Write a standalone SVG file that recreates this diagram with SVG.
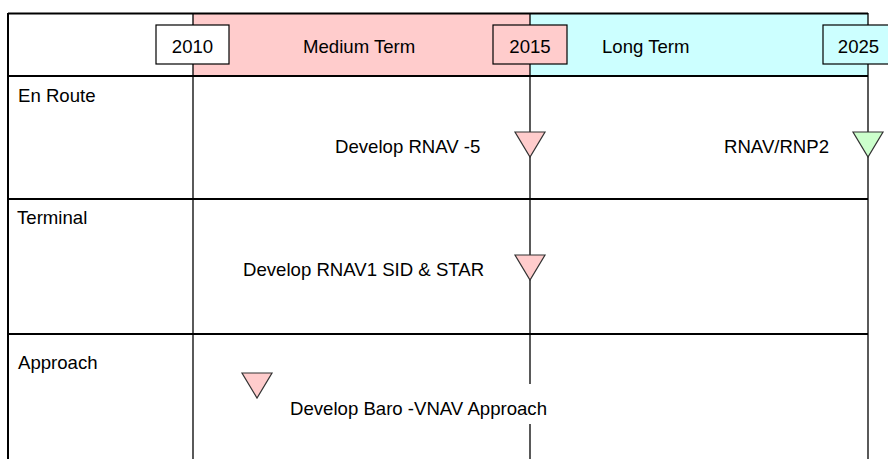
<svg xmlns="http://www.w3.org/2000/svg" width="888" height="459" viewBox="0 0 888 459">
<style>
text{font-family:"Liberation Sans",Arial,sans-serif;font-size:18.6px;fill:#000}
.mid{text-anchor:middle}
.thick{stroke:#000;stroke-width:2;fill:none}
.thin{stroke:#000;stroke-width:1.3;fill:none}
.box{stroke:#000;stroke-width:1.2}
.tri{stroke:#333;stroke-width:1.2}
.pink{fill:#FFCCCC}
.cyan{fill:#CCFFFF}
.green{fill:#CCFFCC}
</style>
<rect width="888" height="459" fill="#fff"/>
<g id="header-bands">
<rect class="pink" x="193" y="13.5" width="337" height="62.5"/>
<rect class="cyan" x="530" y="13.5" width="338" height="62.5"/>
</g>
<g id="grid">
<line class="thick" x1="8" y1="13.5" x2="868" y2="13.5"/>
<line class="thick" x1="8" y1="13" x2="8" y2="459"/>
<line class="thick" x1="8" y1="76" x2="868" y2="76"/>
<line class="thick" x1="8" y1="199" x2="868" y2="199"/>
<line class="thick" x1="8" y1="334" x2="868" y2="334"/>
<line class="thin" x1="193" y1="13" x2="193" y2="459"/>
<line class="thin" x1="868" y1="13" x2="868" y2="459"/>
<line class="thin" x1="530" y1="13" x2="530" y2="384"/>
<line class="thin" x1="530" y1="424" x2="530" y2="459"/>
</g>
<g id="y2010"><rect class="box" x="156" y="25" width="73" height="39" fill="#fff"/><text class="mid" x="192.5" y="53">2010</text></g>
<g id="medium-term"><text x="303" y="53">Medium Term</text></g>
<g id="y2015"><rect class="box pink" x="493" y="25" width="74" height="39"/><text class="mid" x="530" y="53">2015</text></g>
<g id="long-term"><text x="602" y="53">Long Term</text></g>
<g id="y2025"><rect class="box cyan" x="823" y="25" width="73" height="39"/><text class="mid" x="858.5" y="53">2025</text></g>
<g id="row-enroute"><text x="18" y="102">En Route</text></g>
<g id="row-terminal"><text x="17" y="224">Terminal</text></g>
<g id="row-approach"><text x="18" y="369">Approach</text></g>
<g id="m-rnav5"><polygon class="tri pink" points="515,132 545,132 530,157"/><text x="335" y="153">Develop RNAV -5</text></g>
<g id="m-rnp2"><polygon class="tri green" points="853,132 883,132 868,157"/><text x="724" y="153">RNAV/RNP2</text></g>
<g id="m-sidstar"><polygon class="tri pink" points="515,255 545,255 530,280"/><text x="243" y="276">Develop RNAV1 SID &amp; STAR</text></g>
<g id="m-baro"><polygon class="tri pink" points="242,373 272,373 257,398"/><text x="290" y="415">Develop Baro -VNAV Approach</text></g>
</svg>
